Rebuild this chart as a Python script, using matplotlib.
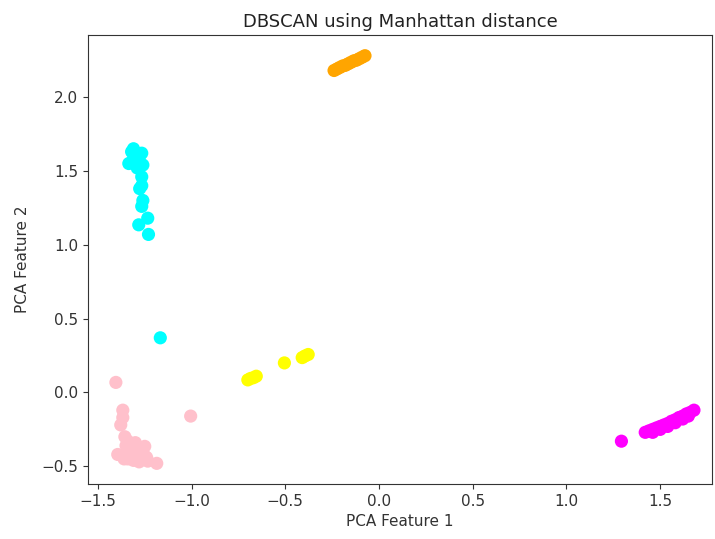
import numpy as np
import matplotlib
matplotlib.use('Agg')
import matplotlib.pyplot as plt

# cluster points (PCA feature 1, PCA feature 2)
cyan_x = [-1.167, -1.230, -1.282, -1.234, -1.266, -1.260, -1.277, -1.266, -1.266,
          -1.335, -1.260, -1.310, -1.266, -1.300, -1.315, -1.290, -1.320, -1.280]
cyan_y = [0.37, 1.07, 1.135, 1.18, 1.26, 1.30, 1.38, 1.40, 1.46,
          1.55, 1.54, 1.65, 1.62, 1.60, 1.57, 1.52, 1.63, 1.58]

orange_x = [-0.24, -0.225, -0.21, -0.195, -0.18, -0.165, -0.15, -0.135,
            -0.12, -0.105, -0.09, -0.075]
orange_y = [2.18, 2.19, 2.20, 2.21, 2.215, 2.225, 2.235, 2.245,
            2.25, 2.26, 2.27, 2.28]

yellow_x = [-0.70, -0.685, -0.67, -0.655, -0.505, -0.41, -0.395, -0.378]
yellow_y = [0.085, 0.095, 0.10, 0.11, 0.20, 0.236, 0.247, 0.257]

pink_x = [-1.404, -1.005, -1.367, -1.367, -1.378, -1.356, -1.340, -1.300, -1.250,
          -1.370, -1.340, -1.277, -1.234, -1.186, -1.310, -1.394, -1.320, -1.290,
          -1.350, -1.330, -1.300, -1.270, -1.250, -1.360, -1.310, -1.280, -1.240]
pink_y = [0.068, -0.16, -0.12, -0.17, -0.22, -0.30, -0.33, -0.34, -0.365,
          -0.43, -0.45, -0.45, -0.465, -0.48, -0.405, -0.42, -0.38, -0.42,
          -0.36, -0.40, -0.37, -0.40, -0.43, -0.45, -0.46, -0.47, -0.44]

magenta_x = [1.293, 1.42, 1.44, 1.46, 1.48, 1.50, 1.52, 1.54, 1.56, 1.58, 1.60,
             1.62, 1.64, 1.66, 1.68, 1.46, 1.50, 1.54, 1.58, 1.62, 1.65]
magenta_y = [-0.33, -0.27, -0.26, -0.25, -0.24, -0.23, -0.22, -0.21, -0.195, -0.185, -0.17,
             -0.16, -0.145, -0.135, -0.12, -0.27, -0.25, -0.23, -0.205, -0.18, -0.16]

clusters = [(cyan_x, cyan_y, 'cyan'), (orange_x, orange_y, 'orange'),
            (yellow_x, yellow_y, 'yellow'), (pink_x, pink_y, 'pink'),
            (magenta_x, magenta_y, 'magenta')]

fig = plt.figure(figsize=(7.15, 5.39), dpi=100)
ax = fig.add_axes([0.123, 0.102, 0.873, 0.833])
for xs, ys, col in clusters:
    ax.scatter(xs, ys, c=col, s=90, edgecolors='none')

ax.set_xlim(-1.553, 1.777)
ax.set_ylim(-0.62, 2.42)
ax.set_xticks([-1.5, -1.0, -0.5, 0.0, 0.5, 1.0, 1.5])
ax.set_yticks([-0.5, 0.0, 0.5, 1.0, 1.5, 2.0])
ax.tick_params(labelsize=11, colors='#333333')
ax.set_title('DBSCAN using Manhattan distance', fontsize=13, color='#222222')
ax.set_xlabel('PCA Feature 1', fontsize=11, color='#333333')
ax.set_ylabel('PCA Feature 2', fontsize=11, color='#333333', labelpad=8)
for s in ax.spines.values():
    s.set_color('#333333')

fig.savefig('out.png', dpi=100)
